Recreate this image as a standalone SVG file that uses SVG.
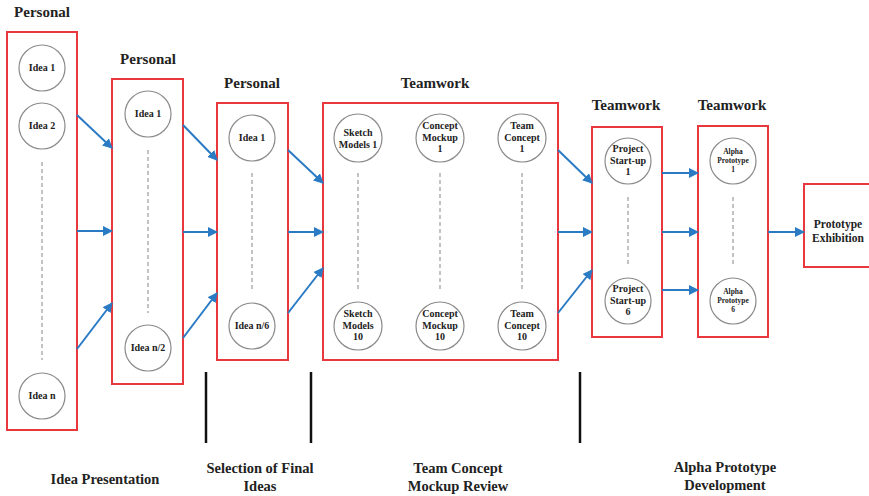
<svg xmlns="http://www.w3.org/2000/svg" width="869" height="496" viewBox="0 0 869 496">
<style>
.box{fill:none;stroke:#e8383d;stroke-width:2}
.c{fill:#fff;stroke:#8a8a8a;stroke-width:1.2}
.d{stroke:#9a9a9a;stroke-width:1.2;stroke-dasharray:4,3}
.t{font-family:"Liberation Serif","Times New Roman",serif;font-weight:bold;fill:#222;text-anchor:middle}
.ct{font-size:10px}
.cs{font-size:7.5px}
.h{font-size:15px}
.lb{font-size:14.5px}
.pe{font-size:11.5px}
.a{stroke:#2b7bc4;stroke-width:2;fill:none;marker-end:url(#ah)}
.v{stroke:#111;stroke-width:2.5}
</style>
<defs>
<marker id="ah" viewBox="0 0 10 10" refX="9" refY="5" markerWidth="5" markerHeight="5" orient="auto" markerUnits="strokeWidth">
<path d="M0,0 L10,5 L0,10 z" fill="#2b7bc4"/>
</marker>
</defs>
<rect width="869" height="496" fill="#fff"/>

<g id="titles">
<text class="t h" x="42" y="17">Personal</text>
<text class="t h" x="148" y="64">Personal</text>
<text class="t h" x="252" y="88">Personal</text>
<text class="t h" x="435" y="88">Teamwork</text>
<text class="t h" x="626" y="110">Teamwork</text>
<text class="t h" x="732" y="110">Teamwork</text>
</g>

<g id="stage1">
<rect class="box" x="7" y="32" width="70" height="398"/>
<line class="d" x1="42" y1="162" x2="42" y2="360"/>
<circle class="c" cx="42" cy="68" r="23"/><text class="t ct" x="42" y="71">Idea 1</text>
<circle class="c" cx="42" cy="126" r="23"/><text class="t ct" x="42" y="129">Idea 2</text>
<circle class="c" cx="42" cy="396" r="23"/><text class="t ct" x="42" y="399">Idea n</text>
</g>

<g id="stage2">
<rect class="box" x="112" y="79" width="71" height="305"/>
<line class="d" x1="148" y1="150" x2="148" y2="313"/>
<circle class="c" cx="148" cy="114" r="23"/><text class="t ct" x="148" y="117">Idea 1</text>
<circle class="c" cx="148" cy="348" r="23"/><text class="t ct" x="148" y="351">Idea n/2</text>
</g>

<g id="stage3">
<rect class="box" x="217" y="103" width="71" height="257"/>
<line class="d" x1="252" y1="173" x2="252" y2="290"/>
<circle class="c" cx="252" cy="138" r="23"/><text class="t ct" x="252" y="141">Idea 1</text>
<circle class="c" cx="252" cy="326" r="23"/><text class="t ct" x="252" y="329">Idea n/6</text>
</g>

<g id="stage4">
<rect class="box" x="323" y="103" width="235" height="257"/>
<line class="d" x1="358" y1="173" x2="358" y2="290"/>
<line class="d" x1="440" y1="173" x2="440" y2="290"/>
<line class="d" x1="522" y1="173" x2="522" y2="290"/>
<circle class="c" cx="358" cy="138" r="24"/><text class="t ct" x="358" y="136">Sketch</text><text class="t ct" x="358" y="148">Models 1</text>
<circle class="c" cx="440" cy="138" r="24"/><text class="t ct" x="440" y="129">Concept</text><text class="t ct" x="440" y="141">Mockup</text><text class="t ct" x="440" y="152">1</text>
<circle class="c" cx="522" cy="138" r="24"/><text class="t ct" x="522" y="129">Team</text><text class="t ct" x="522" y="141">Concept</text><text class="t ct" x="522" y="152">1</text>
<circle class="c" cx="358" cy="326" r="24"/><text class="t ct" x="358" y="317">Sketch</text><text class="t ct" x="358" y="329">Models</text><text class="t ct" x="358" y="340">10</text>
<circle class="c" cx="440" cy="326" r="24"/><text class="t ct" x="440" y="317">Concept</text><text class="t ct" x="440" y="329">Mockup</text><text class="t ct" x="440" y="340">10</text>
<circle class="c" cx="522" cy="326" r="24"/><text class="t ct" x="522" y="317">Team</text><text class="t ct" x="522" y="329">Concept</text><text class="t ct" x="522" y="340">10</text>
</g>

<g id="stage5">
<rect class="box" x="592" y="127" width="70" height="210"/>
<line class="d" x1="628" y1="197" x2="628" y2="267"/>
<circle class="c" cx="628" cy="161" r="23"/><text class="t ct" x="628" y="152">Project</text><text class="t ct" x="628" y="164">Start-up</text><text class="t ct" x="628" y="175">1</text>
<circle class="c" cx="628" cy="301" r="23"/><text class="t ct" x="628" y="292">Project</text><text class="t ct" x="628" y="304">Start-up</text><text class="t ct" x="628" y="315">6</text>
</g>

<g id="stage6">
<rect class="box" x="698" y="126" width="70" height="211"/>
<line class="d" x1="733" y1="197" x2="733" y2="267"/>
<circle class="c" cx="733" cy="161" r="23"/><text class="t cs" x="733" y="154">Alpha</text><text class="t cs" x="733" y="163">Prototype</text><text class="t cs" x="733" y="172">1</text>
<circle class="c" cx="733" cy="301" r="23"/><text class="t cs" x="733" y="294">Alpha</text><text class="t cs" x="733" y="303">Prototype</text><text class="t cs" x="733" y="312">6</text>
</g>

<g id="stage7">
<rect class="box" x="804" y="184" width="72" height="83"/>
<text class="t pe" x="838" y="228">Prototype</text>
<text class="t pe" x="838" y="242">Exhibition</text>
</g>

<g id="connectors">
<line class="a" x1="77" y1="115" x2="112" y2="148"/>
<line class="a" x1="77" y1="231" x2="112" y2="231"/>
<line class="a" x1="77" y1="349" x2="112" y2="303"/>
<line class="a" x1="183" y1="125" x2="217" y2="160"/>
<line class="a" x1="183" y1="232" x2="217" y2="232"/>
<line class="a" x1="183" y1="338" x2="217" y2="293"/>
<line class="a" x1="288" y1="150" x2="323" y2="183"/>
<line class="a" x1="288" y1="232" x2="323" y2="232"/>
<line class="a" x1="288" y1="313" x2="323" y2="268"/>
<line class="a" x1="558" y1="150" x2="592" y2="183"/>
<line class="a" x1="558" y1="232" x2="592" y2="232"/>
<line class="a" x1="558" y1="313" x2="592" y2="270"/>
<line class="a" x1="662" y1="173" x2="698" y2="173"/>
<line class="a" x1="662" y1="232" x2="698" y2="232"/>
<line class="a" x1="662" y1="290" x2="698" y2="290"/>
<line class="a" x1="768" y1="232" x2="804" y2="232"/>
</g>

<g id="phases">
<line class="v" x1="206" y1="372" x2="206" y2="443"/>
<line class="v" x1="311" y1="372" x2="311" y2="443"/>
<line class="v" x1="580" y1="372" x2="580" y2="443"/>
<text class="t lb" x="105" y="484">Idea Presentation</text>
<text class="t lb" x="260" y="473">Selection of Final</text>
<text class="t lb" x="260" y="491">Ideas</text>
<text class="t lb" x="458" y="473">Team Concept</text>
<text class="t lb" x="458" y="491">Mockup Review</text>
<text class="t lb" x="725" y="472">Alpha Prototype</text>
<text class="t lb" x="725" y="490">Development</text>
</g>
</svg>
